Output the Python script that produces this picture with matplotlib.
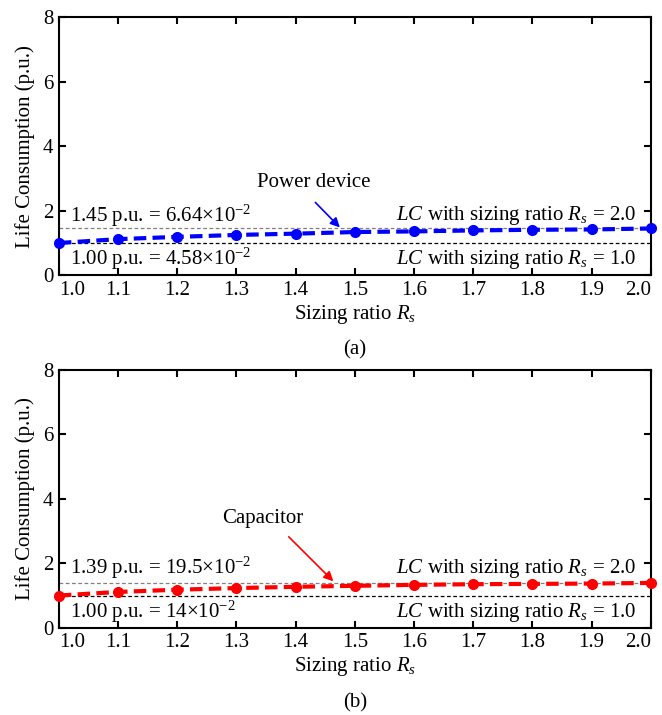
import matplotlib
matplotlib.use('Agg')
import matplotlib.pyplot as plt

plt.rcParams['font.family'] = ['Liberation Serif', 'DejaVu Serif']
plt.rcParams['mathtext.fontset'] = 'custom'
plt.rcParams['mathtext.rm'] = 'Liberation Serif'
plt.rcParams['mathtext.it'] = 'Liberation Serif:italic'

# data
rs = [1.0, 1.1, 1.2, 1.3, 1.4, 1.5, 1.6, 1.7, 1.8, 1.9, 2.0]
lc_device = [1.00, 1.12, 1.19, 1.25, 1.29, 1.34, 1.36, 1.39, 1.41, 1.42, 1.45]
lc_cap = [1.00, 1.11, 1.18, 1.23, 1.27, 1.30, 1.33, 1.35, 1.36, 1.37, 1.39]
xticks = [1.0, 1.1, 1.2, 1.3, 1.4, 1.5, 1.6, 1.7, 1.8, 1.9, 2.0]
yticks = [0, 2, 4, 6, 8]

fs = 15

fig = plt.figure(figsize=(6.62, 7.15), dpi=100)
ax1 = fig.add_axes([0.089, 0.615, 0.894, 0.361])
ax2 = fig.add_axes([0.089, 0.122, 0.894, 0.361])


def panel(ax, y, col, top_val, top_txt, low_txt, name, txt_xy, arr_from, arr_to, letter):
    ax.axhline(top_val, color='gray', ls=(0, (3, 2)), lw=0.9, zorder=1)
    ax.axhline(1.0, color='black', ls=(0, (3, 2)), lw=0.9, zorder=1)
    ax.plot(rs, y, color=col, ls=(0, (3, 1.5)), lw=3, marker='o', ms=7,
            clip_on=False, zorder=3)
    ax.set_xlim(1.0, 2.0)
    ax.set_ylim(0, 8)
    ax.set_xticks(xticks)
    ax.set_xticklabels(['%.1f' % v for v in xticks])
    ax.set_yticks(yticks)
    lbls = ax.get_xticklabels()
    lbls[0].set_horizontalalignment('left')
    lbls[-1].set_horizontalalignment('right')
    ax.tick_params(direction='in', top=True, right=True, length=5, width=1.5,
                   labelsize=fs, pad=4)
    for s in ax.spines.values():
        s.set_linewidth(1.5)
    ax.set_ylabel('Life Consumption (p.u.)', fontsize=fs, labelpad=6)
    ax.set_xlabel('Sizing ratio $R_s$', fontsize=fs, labelpad=2)
    ax.text(1.018, 1.85, top_txt, fontsize=fs, va='center', ha='left')
    ax.text(1.018, 0.50, low_txt, fontsize=fs, va='center', ha='left')
    ax.text(1.976, 1.85, '$LC$ with sizing ratio $R_s$ = 2.0', fontsize=fs,
            va='center', ha='right')
    ax.text(1.976, 0.48, '$LC$ with sizing ratio $R_s$ = 1.0', fontsize=fs,
            va='center', ha='right')
    ax.text(txt_xy[0], txt_xy[1], name, fontsize=fs, va='center', ha='center')
    ax.annotate('', xy=arr_to, xytext=arr_from,
                arrowprops=dict(arrowstyle='-|>', color=col, lw=1.2,
                                mutation_scale=14))
    ax.text(0.5, -0.29, letter, transform=ax.transAxes, fontsize=fs,
            ha='center', va='center')


panel(ax1, lc_device, '#0000ff', 1.45,
      r'1.45 p.u. = 6.64$\times$10$^{-2}$',
      r'1.00 p.u. = 4.58$\times$10$^{-2}$',
      'Power device', (1.43, 2.88), (1.43, 2.32), (1.478, 1.42), '(a)')
panel(ax2, lc_cap, '#ff0000', 1.39,
      r'1.39 p.u. = 19.5$\times$10$^{-2}$',
      r'1.00 p.u. = 14$\times$10$^{-2}$',
      'Capacitor', (1.345, 3.40), (1.385, 2.88), (1.467, 1.38), '(b)')

fig.savefig('out.png', dpi=100)
